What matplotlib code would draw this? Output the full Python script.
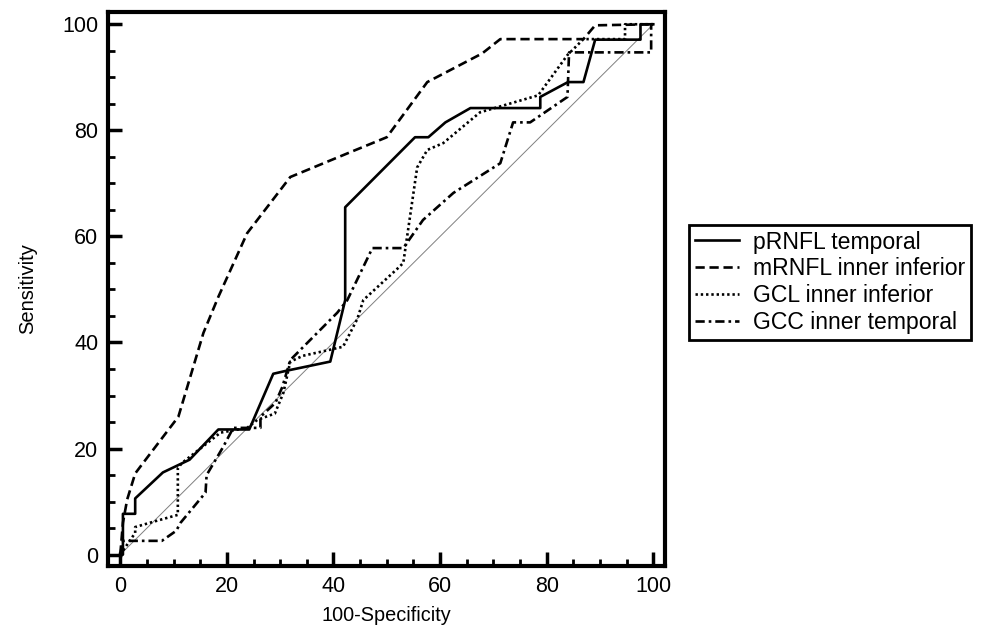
import matplotlib
matplotlib.use("Agg")
import matplotlib.pyplot as plt

plt.rcParams['font.family'] = ['Liberation Sans', 'DejaVu Sans']

# ROC curves (x = 100-Specificity, y = Sensitivity)
prnfl_x = [0, 0.5, 0.5, 2.8, 2.8, 8.0, 13.0, 18.4, 24.2, 28.7, 31.3, 39.4, 42.2, 42.2,
           55.3, 57.8, 61.0, 65.7, 78.8, 78.8, 84.0, 86.9, 89.1, 97.6, 97.6, 100]
prnfl_y = [0, 0, 7.7, 7.7, 10.6, 15.5, 17.9, 23.6, 23.6, 34.1, 34.7, 36.4, 48.0, 65.5,
           78.7, 78.7, 81.5, 84.2, 84.2, 86.3, 89.1, 89.1, 97.1, 97.1, 100, 100]

mrnfl_x = [0, 0.5, 1.3, 2.8, 4.3, 10.9, 15.6, 18.4, 23.8, 31.9, 43.2, 50.0, 57.6,
           67.9, 71.3, 86.9, 89.1, 100]
mrnfl_y = [0, 6.0, 10.4, 15.3, 17.3, 26.0, 41.8, 48.6, 60.6, 71.2, 75.9, 78.7, 89.1,
           94.5, 97.2, 97.2, 99.8, 100]

gcl_x = [0, 2.8, 2.8, 6.2, 10.8, 10.8, 11.6, 18.8, 23.8, 25.7, 29.0, 30.6, 31.9,
         34.3, 39.2, 41.8, 44.5, 45.6, 52.3, 53.1, 55.7, 57.6, 60.6, 67.5, 78.4,
         83.9, 86.9, 94.7, 94.7, 100]
gcl_y = [0, 4.1, 5.2, 6.2, 7.5, 16.3, 17.3, 23.0, 23.9, 25.4, 26.6, 30.5, 36.4,
         37.5, 38.6, 39.2, 44.5, 48.0, 54.2, 55.0, 73.0, 76.3, 77.6, 83.4, 86.6,
         94.2, 97.2, 97.2, 100, 100]

gcc_x = [0, 0.5, 7.8, 10.5, 11.3, 16.0, 16.2, 19.3, 21.2, 26.3, 26.3, 29.1, 30.4,
         31.9, 40.7, 42.6, 47.3, 53.1, 56.8, 62.5, 71.3, 73.7, 76.9, 83.9, 84.2,
         99.6, 99.6, 100]
gcc_y = [0, 2.6, 2.6, 4.5, 6.0, 11.7, 15.0, 20.3, 23.9, 23.9, 26.0, 28.6, 31.6,
         36.7, 45.6, 48.0, 57.8, 57.8, 63.1, 68.2, 73.8, 81.5, 81.5, 86.3, 94.7,
         94.7, 100, 100]

labels = ["pRNFL temporal", "mRNFL inner inferior", "GCL inner inferior", "GCC inner temporal"]

fig = plt.figure(figsize=(9.89, 6.35), dpi=100)
ax = fig.add_axes([0.1092, 0.109, 0.5632, 0.872])

# diagonal reference line
ax.plot([0, 100], [0, 100], color="gray", linewidth=0.7)

ax.plot(prnfl_x, prnfl_y, color="black", linewidth=1.9, linestyle="-", label=labels[0])
ax.plot(mrnfl_x, mrnfl_y, color="black", linewidth=1.9, linestyle=(0, (3.5, 1.8)), label=labels[1])
ax.plot(gcl_x, gcl_y, color="black", linewidth=1.9, linestyle=(0, (0.9, 1.1)), label=labels[2])
ax.plot(gcc_x, gcc_y, color="black", linewidth=1.9, linestyle=(0, (3.5, 1.5, 1, 1.5)), label=labels[3])

ax.set_xlim(-2.3, 102.2)
ax.set_ylim(-2.1, 102.3)
ax.set_xticks(range(0, 101, 20))
ax.set_yticks(range(0, 101, 20))
ax.set_xticks(range(0, 101, 5), minor=True)
ax.set_yticks(range(0, 101, 5), minor=True)
ax.tick_params(which="major", direction="in", length=10, width=2.5, labelsize=15.5, pad=7)
ax.tick_params(which="minor", direction="in", length=5, width=2)
for s in ax.spines.values():
    s.set_linewidth(3)

ax.set_xlabel("100-Specificity", fontsize=14.3, labelpad=7)
ax.set_ylabel("Sensitivity", fontsize=14.5, labelpad=18)

leg = fig.legend(loc="upper left", bbox_to_anchor=(0.697, 0.646), fontsize=16.6,
                 handlelength=1.9, labelspacing=0.17, borderpad=0.25, handletextpad=0.6,
                 borderaxespad=0, fancybox=False, edgecolor="black", framealpha=1)
leg.get_frame().set_linewidth(2)

fig.savefig("out.png", dpi=100)
